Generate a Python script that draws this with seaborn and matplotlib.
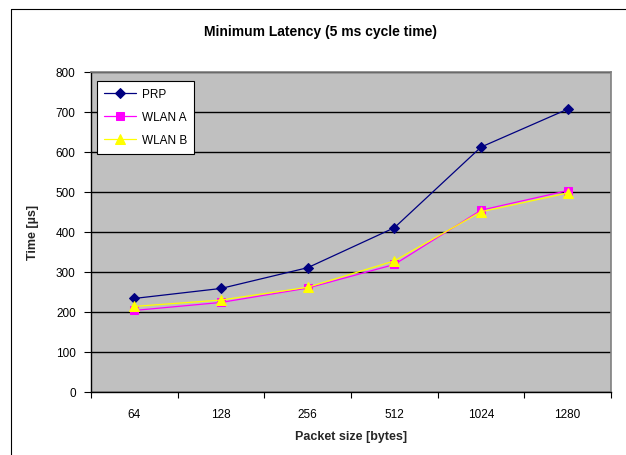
import matplotlib
matplotlib.use("Agg")
import matplotlib.pyplot as plt
from matplotlib.lines import Line2D
import seaborn as sns
import pandas as pd

packet_sizes = ["64", "128", "256", "512", "1024", "1280"]
prp = [233, 258, 310, 410, 612, 707]
wlan_a = [203, 223, 259, 318, 454, 503]
wlan_b = [213, 229, 261, 327, 450, 497]
y_ticks = [0, 100, 200, 300, 400, 500, 600, 700, 800]

series = [
    ("PRP", prp, "#000080", "D", 5),
    ("WLAN A", wlan_a, "#FF00FF", "s", 5.5),
    ("WLAN B", wlan_b, "#FFFF00", "^", 6.5),
]

sns.set_theme(style="white")
plt.rcParams["font.family"] = ["Liberation Sans", "DejaVu Sans"]

fig = plt.figure(figsize=(6.26, 4.56), dpi=100)
ax = fig.add_axes([91 / 626, 1 - 392.5 / 456, 520 / 626, 319.5 / 456])
ax.set_facecolor("#C0C0C0")

pos = list(range(len(packet_sizes)))
for name, vals, color, marker, ms in series:
    df = pd.DataFrame({"pos": pos, "value": vals})
    sns.lineplot(data=df, x="pos", y="value", ax=ax, color=color, marker=marker,
                 markersize=ms, markeredgecolor=color, linewidth=0.9,
                 label=name, zorder=3)

ax.set_xlim(-0.5, len(packet_sizes) - 0.5)
ax.set_ylim(0, 800)
ax.set_yticks(y_ticks)
ax.set_yticklabels([str(v) for v in y_ticks], fontsize=8.5, color="#000000")
ax.yaxis.grid(True, color="#000000", linewidth=1.0)
ax.xaxis.grid(False)
ax.set_axisbelow(True)

ax.set_xticks([p - 0.5 for p in pos] + [len(pos) - 0.5])
ax.set_xticklabels([])
ax.set_xticks(pos, minor=True)
ax.set_xticklabels(packet_sizes, minor=True, fontsize=8.5, color="#000000")
ax.tick_params(axis="x", which="major", direction="out", length=4, width=0.8,
               color="#000000", bottom=True)
ax.tick_params(axis="x", which="minor", length=0, pad=12)
ax.tick_params(axis="y", direction="out", length=5, width=0.8, color="#000000",
               pad=6, left=True)

for side in ["left", "bottom"]:
    ax.spines[side].set_color("#000000")
    ax.spines[side].set_linewidth(1.0)
for side in ["top", "right"]:
    ax.spines[side].set_color("#808080")
    ax.spines[side].set_linewidth(1.2)

ax.set_xlabel("Packet size [bytes]", fontsize=9, fontweight="bold", labelpad=7)
ax.set_ylabel("Time [µs]", fontsize=9, fontweight="bold", labelpad=12)

leg = ax.legend(loc="upper left", bbox_to_anchor=(0.011, 0.972), borderaxespad=0,
                frameon=True, fancybox=False, edgecolor="#000000", facecolor="white",
                framealpha=1, fontsize=8.5, handlelength=2.7, handletextpad=0.5,
                labelspacing=0.95, borderpad=0.6)
leg.get_frame().set_linewidth(0.8)
for t in leg.get_texts():
    t.set_color("#000000")

fig.text(0.512, 1 - 32 / 456, "Minimum Latency (5 ms cycle time)", ha="center",
         va="center", fontsize=10, fontweight="bold", color="#000000")

fig.add_artist(Line2D([11 / 626, 11 / 626], [0, 1 - 10 / 456], color="#000000",
                      linewidth=0.8, transform=fig.transFigure))
fig.add_artist(Line2D([11 / 626, 1], [1 - 10 / 456, 1 - 10 / 456], color="#000000",
                      linewidth=0.8, transform=fig.transFigure))

fig.savefig("out.png", dpi=100, facecolor="white")
